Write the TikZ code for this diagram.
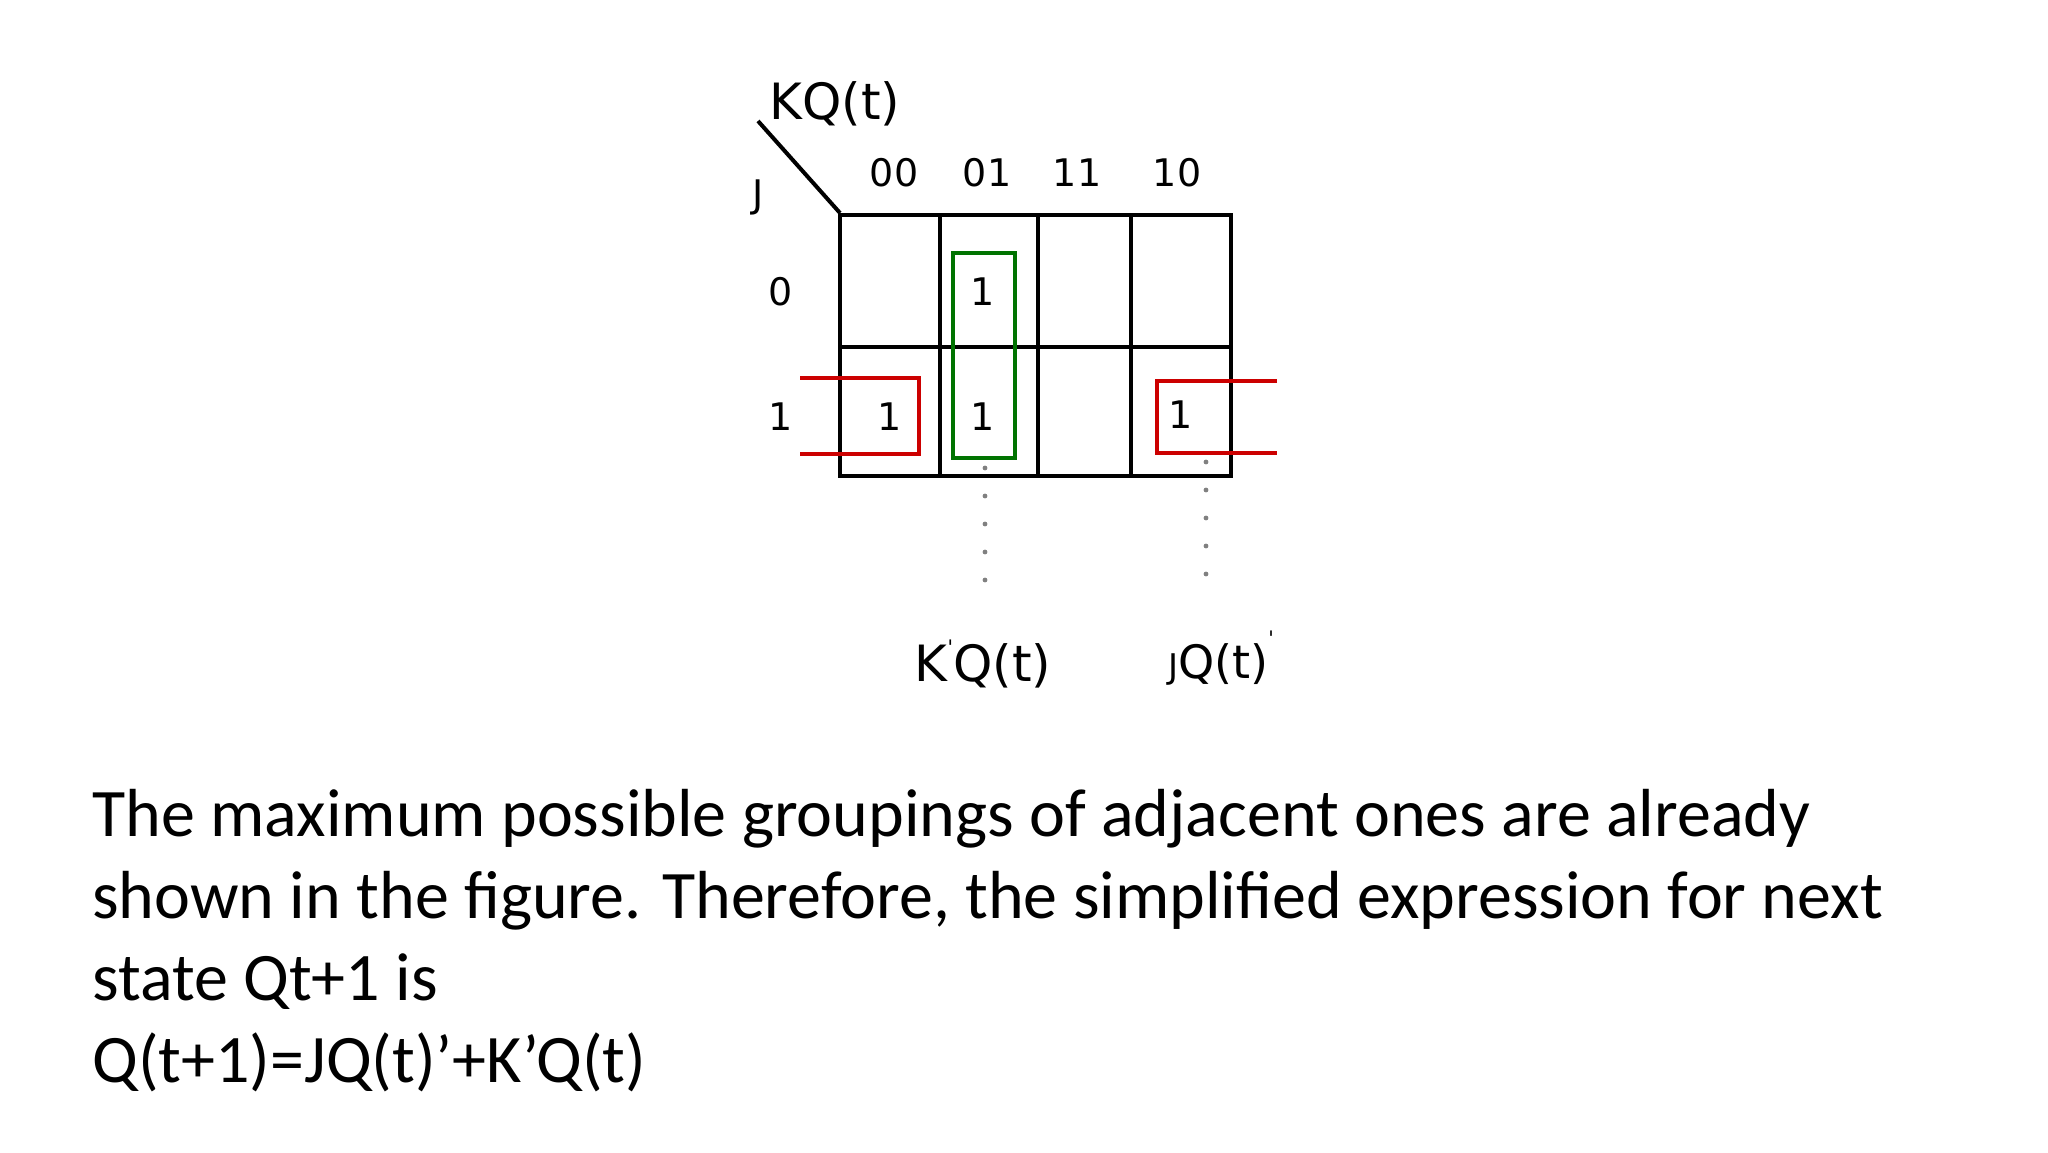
\documentclass[tikz,border=0pt]{standalone}
\usepackage{fontspec}
\setmainfont{Carlito}
\newfontfamily\mapfont{DejaVu Sans}
\begin{document}
\begin{tikzpicture}[x=0.5pt,y=-0.5pt,
  cellline/.style={line width=2.2pt,black},
  grn/.style={draw=green!45!black,line width=2pt},
  rd/.style={draw=red!80!black,line width=2pt},
  dots/.style={line width=2.4pt,gray,line cap=round,dash pattern=on 0pt off 14pt},
  lbl/.style={font=\mapfont\fontsize{19}{22}\selectfont,inner sep=0pt},
  big/.style={font=\mapfont\fontsize{25}{28}\selectfont,inner sep=0pt},
  body/.style={font=\fontsize{34}{40}\selectfont,anchor=base west,inner sep=0pt}]
\useasboundingbox[fill=white] (0,0) rectangle (2048,1152);
% grid
\draw[cellline] (840,215) rectangle (1231,476);
\draw[cellline] (840,347) -- (1231,347);
\foreach \x in {940,1038,1131} \draw[cellline] (\x,215) -- (\x,476);
\coordinate (d1) at (758,121); \coordinate (d2) at (840,213);
\draw[line width=2pt] (d1) -- (d2);
\node[big] (kq) at (835,104) {KQ(t)};
\node[lbl] (j) at (758,197) {J};
\node[lbl] (c0) at (894,173) {00};
\node[lbl] (c1) at (987,173) {01};
\node[lbl] (c2) at (1077,173) {11};
\node[lbl] (c3) at (1177,173) {10};
\node[lbl] (r0) at (781,292) {0};
\node[lbl] (r1) at (781,417) {1};
\node[lbl] (m01) at (983,292) {1};
\node[lbl] (m10) at (890,417) {1};
\node[lbl] (m11) at (983,417) {1};
\node[lbl] (m13) at (1181,415) {1};
% groups
\draw[grn] (953,253) rectangle (1015,458);
\draw[rd] (800,378) -- (919,378) -- (919,454) -- (800,454);
\draw[rd] (1277,381) -- (1157,381) -- (1157,453) -- (1277,453);
% dotted
\coordinate (a1) at (985,468); \coordinate (a2) at (985,598);
\coordinate (b1) at (1206,462); \coordinate (b2) at (1206,598);
\draw[dots] (a1) -- (a2);
\draw[dots] (b1) -- (b2);
\node[big] (kqt) at (983,664) {K\raisebox{0.55em}{\fontsize{10}{10}\selectfont'}Q(t)};
\node[big,font=\mapfont\fontsize{23}{26}\selectfont] (jqt) at (1221,658) {\fontsize{17}{20}\selectfont J\fontsize{23}{26}\selectfont Q(t)\raisebox{0.7em}{\fontsize{10}{10}\selectfont'}};
% text
\node[body] (t1) at (92,836) {The maximum possible groupings of adjacent ones are already};
\node[body] (t2) at (92,918) {shown in the figure. Therefore, the simplified expression for next};
\node[body] (t3) at (92,1000) {state Qt+1 is};
\node[body] (t4) at (92,1082) {Q(t+1)=JQ(t)’+K’Q(t)};
\end{tikzpicture}
\end{document}
